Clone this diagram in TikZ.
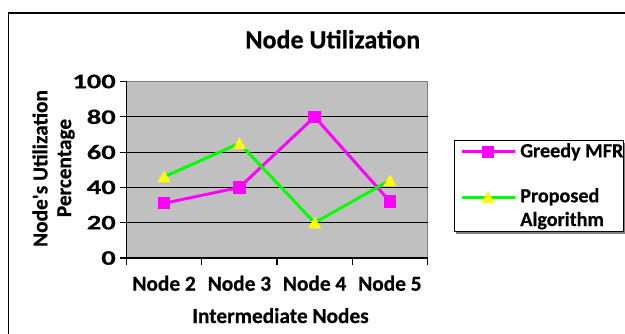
\documentclass[tikz,border=0pt]{standalone}
\usepackage{fontspec}
\setmainfont{Carlito}[BoldFeatures={FakeBold=0.5}]
\newfontfamily\tickfont{Carlito}[FakeStretch=1.38, BoldFeatures={FakeBold=0.5}]
\definecolor{plotgray}{HTML}{C0C0C0}
\definecolor{framegray}{HTML}{808080}
\definecolor{mfr}{HTML}{FF00FF}
\definecolor{prop}{HTML}{00FF00}
\definecolor{tri}{HTML}{FFFF00}
\tikzset{
  lbl/.style={font=\fontsize{16}{19}\selectfont\bfseries, inner sep=0pt},
  leglbl/.style={font=\fontsize{15.1}{19}\selectfont\bfseries, inner sep=0pt, anchor=base west},
  ticklbl/.style={font=\fontsize{15.5}{18}\selectfont\tickfont\bfseries, inner sep=0pt, anchor=east},
  grid line/.style={black, line width=0.75pt},
  mfrline/.style={mfr, line width=2.2pt},
  propline/.style={prop, line width=2.2pt},
  sq/.pic={\fill[mfr] (-6.2,-6.2) rectangle (6.2,6.2);},
  trimark/.pic={\fill[tri] (-6.6,5.6) -- (6.6,5.6) -- (0,-5.8) -- cycle;},
}
\begin{document}
\begin{tikzpicture}[x=0.75pt,y=-0.75pt]
\clip (0,0) rectangle (625,333);
\fill[white] (0,0) rectangle (625,333);
% outer frame
\draw[black, line width=1pt] (8.7,340) -- (8.7,13) -- (640,13);
% title
\node[font=\fontsize{19.5}{22}\selectfont\bfseries, inner sep=0pt, anchor=base] (title) at (332.8,48.3) {Node Utilization};
% plot area
\fill[plotgray] (126.5,81.5) rectangle (427.5,258);
\draw[framegray, line width=1.3pt] (126.5,81.5) -- (427.5,81.5) -- (427.5,258);
\foreach \v in {20,40,60,80} \draw[grid line] (126.5,258-1.765*\v) -- (427.5,258-1.765*\v);
% axes
\draw[black, line width=1pt] (126.5,81.5) -- (126.5,258) -- (427.5,258);
\foreach \v in {0,20,...,100} {
  \draw[black, line width=0.9pt] (119.5,258-1.765*\v) -- (126.5,258-1.765*\v);
  \node[ticklbl] (t\v) at (116,258-1.765*\v) {\v};
}
\foreach \x in {126.5,201.75,277,352.25,427.5} \draw[black, line width=0.9pt] (\x,258) -- (\x,265);
% category labels
\node[lbl, anchor=base] (c2) at (164.1,290.7) {Node 2};
\node[lbl, anchor=base] (c3) at (239.4,290.7) {Node 3};
\node[lbl, anchor=base] (c4) at (314.6,290.7) {Node 4};
\node[lbl, anchor=base] (c5) at (389.9,290.7) {Node 5};
\node[lbl, anchor=base] (xtitle) at (280.5,323) {Intermediate Nodes};
% y title
\node[lbl, rotate=90] (ytitle1) at (40,168.5) {Node\textquotesingle s Utilization};
\node[lbl, rotate=90] (ytitle2) at (66,168) {Percentage};
% data points
\coordinate (g1) at (164.1,258-1.765*31);
\coordinate (g2) at (239.4,258-1.765*40);
\coordinate (g3) at (314.6,258-1.765*80);
\coordinate (g4) at (389.9,258-1.765*32);
\coordinate (p1) at (164.1,258-1.765*46);
\coordinate (p2) at (239.4,258-1.765*65);
\coordinate (p3) at (314.6,258-1.765*20);
\coordinate (p4) at (389.9,258-1.765*44);
\draw[mfrline] (g1) -- (g2) -- (g3) -- (g4);
\foreach \p in {g1,g2,g3,g4} \pic at (\p) {sq};
\draw[propline] (p1) -- (p2) -- (p3) -- (p4);
\foreach \p in {p1,p2,p3,p4} \pic at (\p) {trimark};
% legend
\fill[framegray] (456,142.7) rectangle (625,233.7);
\draw[black, fill=white, line width=0.75pt] (454,140.7) rectangle (623,231.7);
\coordinate (la1) at (461.7,151.7);
\coordinate (lb1) at (515,151.7);
\coordinate (lm1) at (488,151.7);
\coordinate (la2) at (461.7,197.3);
\coordinate (lb2) at (515,197.3);
\coordinate (lm2) at (488,197.3);
\draw[mfrline] (la1) -- (lb1);
\pic at (lm1) {sq};
\draw[propline] (la2) -- (lb2);
\pic at (lm2) {trimark};
\node[leglbl] (leg1) at (520,157.3) {Greedy MFR};
\node[leglbl] (leg2) at (520,202.3) {Proposed};
\node[leglbl] (leg3) at (520,226) {Algorithm};
\end{tikzpicture}
\end{document}
